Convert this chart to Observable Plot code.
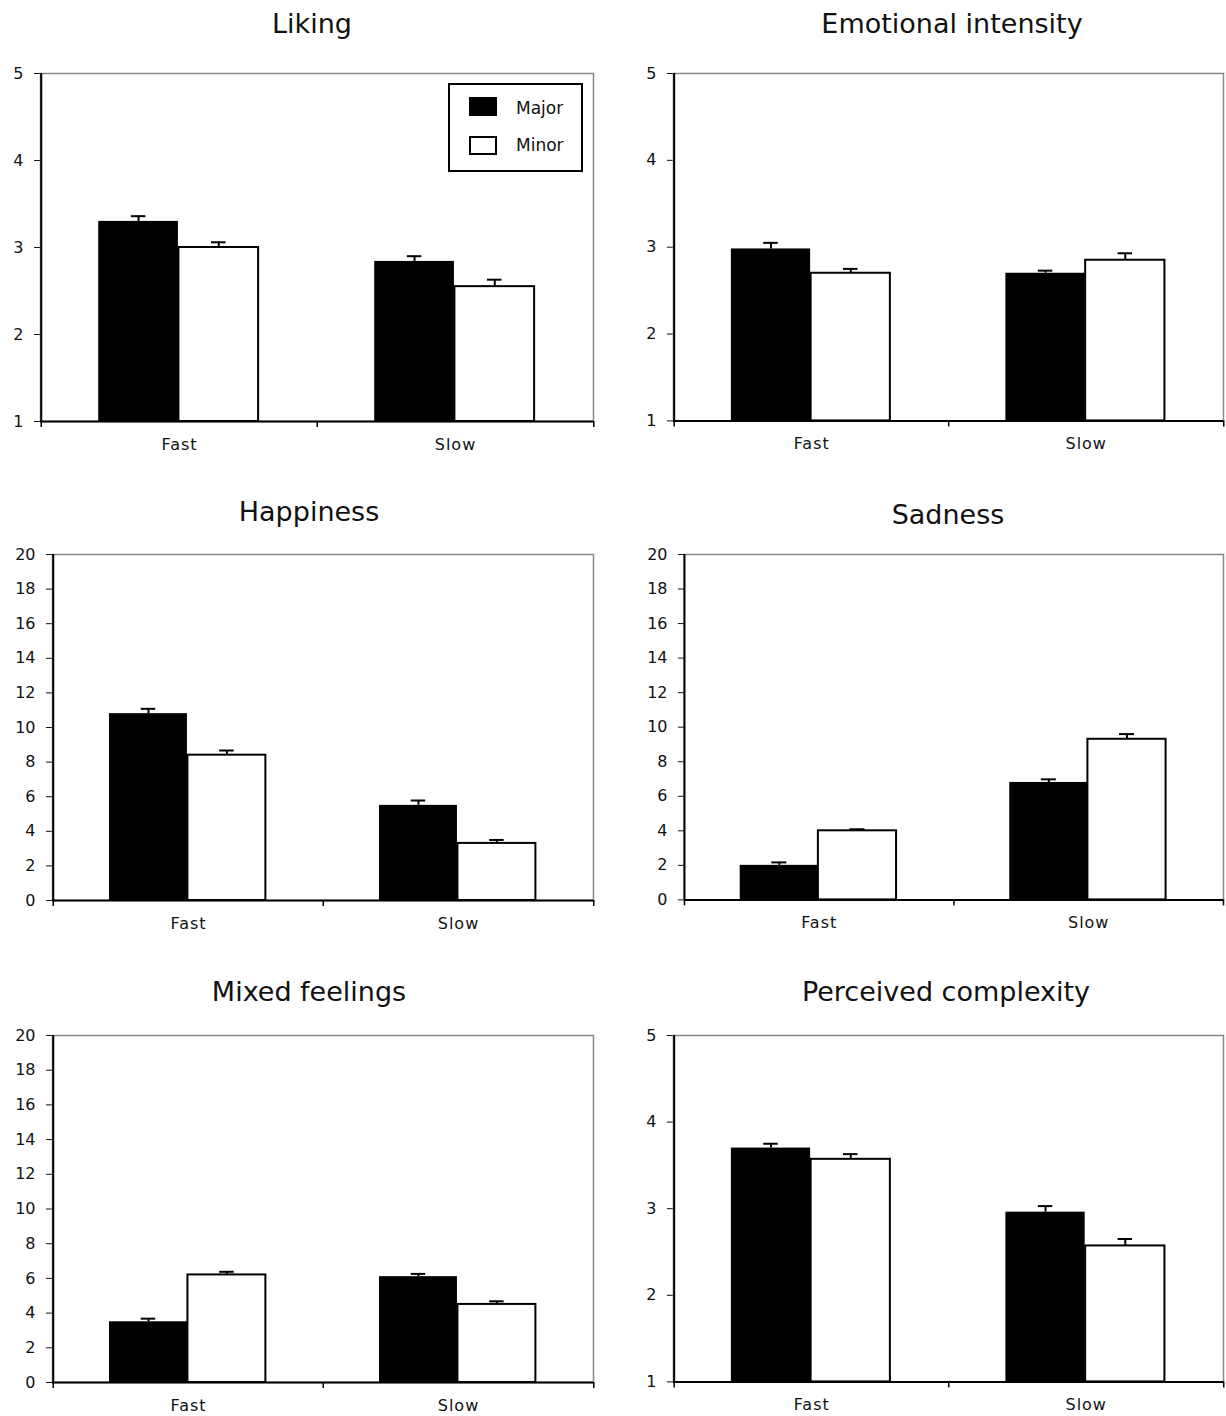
<!DOCTYPE html>
<html>
<head>
<meta charset="utf-8">
<script src="https://cdn.jsdelivr.net/npm/d3@7"></script>
<script src="https://cdn.jsdelivr.net/npm/@observablehq/plot@0.6"></script>
<style>
  body { margin: 0; background: #fff; }
  #chart { position: relative; width: 1226px; height: 1416px; overflow: hidden; background: #fff;
           font-family: "DejaVu Sans", sans-serif; color: #111; }
  .title { position: absolute; font-size: 27px; line-height: 27px; white-space: nowrap; transform: translateX(-50%); color: #111; }
  .panel { position: absolute; }
  .panel svg { overflow: visible; }
  .panel svg [aria-label="x-axis tick label"] text, .panel svg [aria-label="x-axis tick label"] { letter-spacing: 1px; }
  .legend { position: absolute; border: 2.5px solid #000; box-sizing: border-box; background: #fff; }
  .legend .sw { position: absolute; box-sizing: border-box; }
  .legend .lab { position: absolute; font-size: 17px; line-height: 17px; white-space: nowrap; color: #111; }
</style>
</head>
<body>
<div id="chart"></div>
<script>
// ---------- data ----------
const categories = ["Fast", "Slow"];
const series = ["Major", "Minor"];
// order of values in each array: Fast-Major, Fast-Minor, Slow-Major, Slow-Minor
const conditions = ["Fast", "Fast", "Slow", "Slow"];
const modes = ["Major", "Minor", "Major", "Minor"];

const titles = ["Liking", "Emotional intensity", "Happiness", "Sadness", "Mixed feelings", "Perceived complexity"];

const likingMean = [3.30, 3.00, 2.84, 2.55];
const likingErr = [0.06, 0.06, 0.06, 0.08];
const intensityMean = [2.98, 2.70, 2.70, 2.85];
const intensityErr = [0.07, 0.05, 0.03, 0.08];
const happinessMean = [10.8, 8.4, 5.5, 3.3];
const happinessErr = [0.28, 0.27, 0.28, 0.20];
const sadnessMean = [2.0, 4.0, 6.8, 9.3];
const sadnessErr = [0.17, 0.09, 0.18, 0.30];
const mixedMean = [3.5, 6.2, 6.1, 4.5];
const mixedErr = [0.18, 0.18, 0.16, 0.18];
const complexityMean = [3.70, 3.57, 2.96, 2.57];
const complexityErr = [0.05, 0.06, 0.07, 0.08];

const ratingTicks = [1, 2, 3, 4, 5];
const countTicks = [0, 2, 4, 6, 8, 10, 12, 14, 16, 18, 20];

const panels = [
  {title: titles[0], mean: likingMean, err: likingErr, domain: [1, 5], ticks: ratingTicks},
  {title: titles[1], mean: intensityMean, err: intensityErr, domain: [1, 5], ticks: ratingTicks},
  {title: titles[2], mean: happinessMean, err: happinessErr, domain: [0, 20], ticks: countTicks},
  {title: titles[3], mean: sadnessMean, err: sadnessErr, domain: [0, 20], ticks: countTicks},
  {title: titles[4], mean: mixedMean, err: mixedErr, domain: [0, 20], ticks: countTicks},
  {title: titles[5], mean: complexityMean, err: complexityErr, domain: [1, 5], ticks: ratingTicks}
];

// ---------- layout (pixel positions of each plot frame) ----------
const layouts = [
  {L: 40,  R: 593,  T: 73,   B: 421,  tx: 312, tb: 33},
  {L: 673, R: 1224, T: 73,   B: 421,  tx: 952, tb: 33},
  {L: 52,  R: 593,  T: 554,  B: 900,  tx: 309, tb: 521},
  {L: 684, R: 1224, T: 554,  B: 900,  tx: 948, tb: 524},
  {L: 52,  R: 593,  T: 1035, B: 1382, tx: 309, tb: 1001},
  {L: 673, R: 1224, T: 1035, B: 1382, tx: 946, tb: 1001}
];

const chart = document.getElementById("chart");
const intFormat = d3.format("d");

function drawPanel(p, lay) {
  const mL = 45, mR = 3, mT = 8, mB = 45;
  const pw = lay.R - lay.L, ph = lay.B - lay.T;
  const bw = pw / 2;
  const rows = conditions.map((c, i) => ({cat: c, mode: modes[i], value: p.mean[i], err: p.err[i]}));
  const maj = rows.filter(d => d.mode === series[0]);
  const mnr = rows.filter(d => d.mode === series[1]);
  const start = 0.207, w = 0.29;
  const majInL = bw * start, majInR = bw * (1 - start - w);
  const minInL = bw * (start + w), minInR = bw * (1 - start - 2 * w);
  const majOff = bw * (start + w / 2 - 0.5), minOff = bw * (start + 1.5 * w - 0.5);
  const base = p.domain[0];
  const capHalf = 7.5;
  const top = d => d.value + d.err;

  const svg = Plot.plot({
    width: mL + pw + mR,
    height: mT + ph + mB,
    marginLeft: mL, marginRight: mR, marginTop: mT, marginBottom: mB,
    style: {fontFamily: "DejaVu Sans, sans-serif", fontSize: "16px", color: "#111", background: "transparent", overflow: "visible"},
    x: {domain: categories, padding: 0, tickSize: 0, tickPadding: 17, label: null},
    y: {domain: p.domain, ticks: p.ticks, tickFormat: intFormat, tickSize: 6, tickPadding: 11, label: null},
    marks: [
      Plot.frame({stroke: "#8a8a8a", strokeWidth: 1.5}),
      Plot.barY(maj, {x: "cat", y1: base, y2: "value", fill: "black", insetLeft: majInL, insetRight: majInR}),
      Plot.barY(mnr, {x: "cat", y1: base, y2: "value", fill: "white", stroke: "black", strokeWidth: 2, insetLeft: minInL, insetRight: minInR}),
      Plot.ruleX(maj, {x: "cat", y1: "value", y2: top, dx: majOff, stroke: "black", strokeWidth: 2}),
      Plot.ruleX(mnr, {x: "cat", y1: "value", y2: top, dx: minOff, stroke: "black", strokeWidth: 2}),
      Plot.tickY(maj, {x: "cat", y: top, insetLeft: bw / 2 + majOff - capHalf, insetRight: bw / 2 - majOff - capHalf, stroke: "black", strokeWidth: 2}),
      Plot.tickY(mnr, {x: "cat", y: top, insetLeft: bw / 2 + minOff - capHalf, insetRight: bw / 2 - minOff - capHalf, stroke: "black", strokeWidth: 2}),
      Plot.ruleY([base], {stroke: "black", strokeWidth: 2}),
      Plot.ruleX([categories[0]], {dx: -bw / 2, stroke: "black", strokeWidth: 2}),
      Plot.ruleX(categories, {dx: -bw / 2, insetTop: ph, insetBottom: -6, stroke: "black", strokeWidth: 1.5}),
      Plot.ruleX([categories[1]], {dx: bw / 2, insetTop: ph, insetBottom: -6, stroke: "black", strokeWidth: 1.5})
    ]
  });

  const div = document.createElement("div");
  div.className = "panel";
  div.style.left = (lay.L - mL) + "px";
  div.style.top = (lay.T - mT) + "px";
  div.appendChild(svg);
  chart.appendChild(div);

  const t = document.createElement("div");
  t.className = "title";
  t.textContent = p.title;
  t.style.left = lay.tx + "px";
  t.style.top = (lay.tb - 23) + "px";
  chart.appendChild(t);
}

panels.forEach((p, i) => drawPanel(p, layouts[i]));

// ---------- legend (in the Liking panel) ----------
const legend = document.createElement("div");
legend.className = "legend";
Object.assign(legend.style, {left: "448px", top: "83px", width: "135px", height: "89px"});
const legendItems = [
  {label: series[0], fill: "#000", top: 12, textTop: 15},
  {label: series[1], fill: "#fff", top: 51, textTop: 52}
];
legendItems.forEach(it => {
  const sw = document.createElement("div");
  sw.className = "sw";
  Object.assign(sw.style, {left: "19px", top: it.top + "px", width: "28px", height: "19px", background: it.fill, border: "2px solid #000"});
  legend.appendChild(sw);
  const lab = document.createElement("div");
  lab.className = "lab";
  lab.textContent = it.label;
  Object.assign(lab.style, {left: "66px", top: it.textTop + "px"});
  legend.appendChild(lab);
});
chart.appendChild(legend);
</script>
</body>
</html>
